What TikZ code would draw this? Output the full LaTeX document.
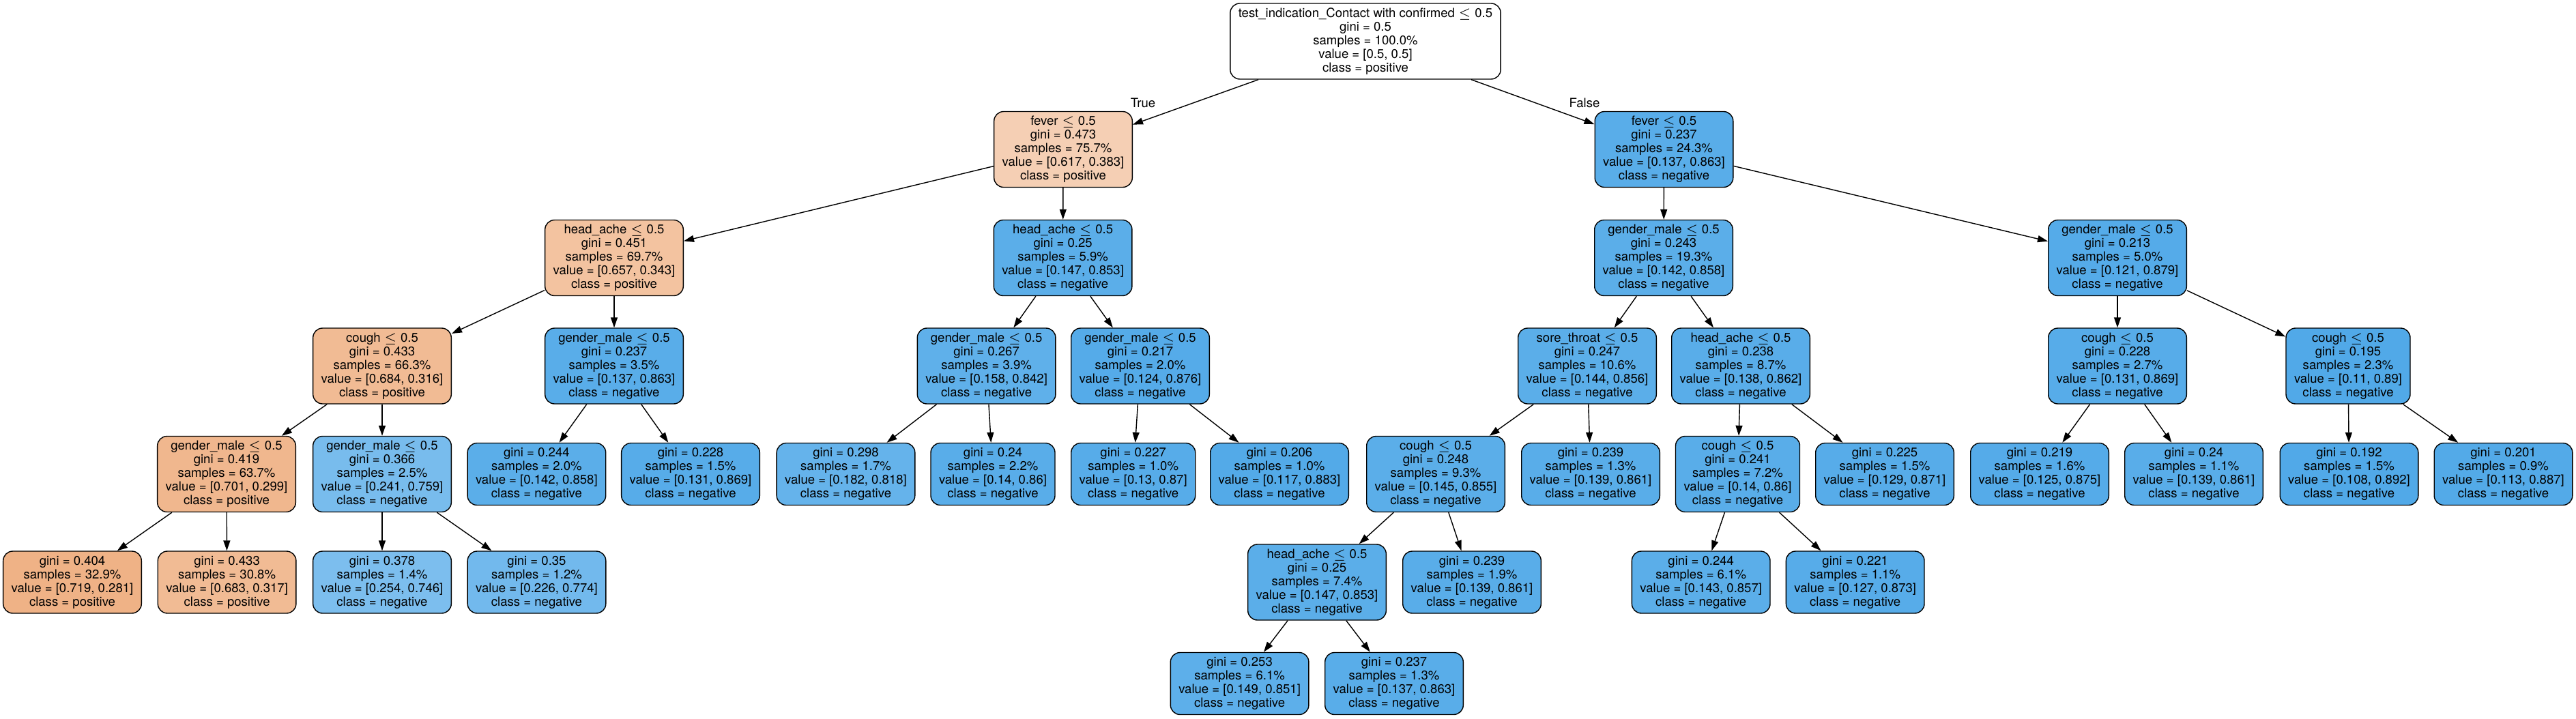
\documentclass[tikz,border=0pt]{standalone}
\usepackage{fontspec}
\setmainfont{TeX Gyre Heros}
\usetikzlibrary{arrows.meta}
\definecolor{pos}{RGB}{229,129,57}
\definecolor{neg}{RGB}{57,157,229}

\begin{document}
\begin{tikzpicture}[
	box/.style={draw, line width=0.4pt, rounded corners=0.14cm, align=center, inner xsep=0.12cm, inner ysep=0pt, font=\fontsize{5.28pt}{5.69pt}\selectfont},
	splitbox/.style={box, minimum height=1.11cm},
	leafbox/.style={box, minimum height=0.91cm},
	arr/.style={-{Triangle[length=0.15cm,width=0.1cm]}, line width=0.4pt},
	lbl/.style={font=\fontsize{5.28pt}{5.69pt}\selectfont, inner sep=0pt}
]
\useasboundingbox (0,0) rectangle (37.75,-10.53);

% depth 0 and 1
\path (20.01,-0.605) node[splitbox, fill=white] (root) {test\_indication\_Contact with confirmed $\leq$ 0.5\\gini = 0.5\\samples = 100.0\%\\value = [0.5, 0.5]\\class = positive};
\path (15.58,-2.19) node[splitbox, fill=pos!38!white] (fev1) {fever $\leq$ 0.5\\gini = 0.473\\samples = 75.7\%\\value = [0.617, 0.383]\\class = positive};
\path (24.385,-2.19) node[splitbox, fill=neg!84!white] (fev2) {fever $\leq$ 0.5\\gini = 0.237\\samples = 24.3\%\\value = [0.137, 0.863]\\class = negative};
\path (16.75,-1.51) node[lbl] (ltrue) {True};
\path (23.22,-1.51) node[lbl] (lfalse) {False};

% depth 2
\path (9.00,-3.78) node[splitbox, fill=pos!48!white] (head1) {head\_ache $\leq$ 0.5\\gini = 0.451\\samples = 69.7\%\\value = [0.657, 0.343]\\class = positive};
\path (15.576,-3.78) node[splitbox, fill=neg!83!white] (head2) {head\_ache $\leq$ 0.5\\gini = 0.25\\samples = 5.9\%\\value = [0.147, 0.853]\\class = negative};
\path (24.38,-3.78) node[splitbox, fill=neg!83!white] (gen1) {gender\_male $\leq$ 0.5\\gini = 0.243\\samples = 19.3\%\\value = [0.142, 0.858]\\class = negative};
\path (31.03,-3.78) node[splitbox, fill=neg!86!white] (gen2) {gender\_male $\leq$ 0.5\\gini = 0.213\\samples = 5.0\%\\value = [0.121, 0.879]\\class = negative};

% depth 3
\path (5.60,-5.365) node[splitbox, fill=pos!54!white] (cough1) {cough $\leq$ 0.5\\gini = 0.433\\samples = 66.3\%\\value = [0.684, 0.316]\\class = positive};
\path (9.00,-5.365) node[splitbox, fill=neg!84!white] (gen3) {gender\_male $\leq$ 0.5\\gini = 0.237\\samples = 3.5\%\\value = [0.137, 0.863]\\class = negative};
\path (14.456,-5.365) node[splitbox, fill=neg!81!white] (gen4) {gender\_male $\leq$ 0.5\\gini = 0.267\\samples = 3.9\%\\value = [0.158, 0.842]\\class = negative};
\path (16.71,-5.365) node[splitbox, fill=neg!86!white] (gen5) {gender\_male $\leq$ 0.5\\gini = 0.217\\samples = 2.0\%\\value = [0.124, 0.876]\\class = negative};
\path (23.26,-5.365) node[splitbox, fill=neg!83!white] (sore1) {sore\_throat $\leq$ 0.5\\gini = 0.247\\samples = 10.6\%\\value = [0.144, 0.856]\\class = negative};
\path (25.51,-5.365) node[splitbox, fill=neg!84!white] (head3) {head\_ache $\leq$ 0.5\\gini = 0.238\\samples = 8.7\%\\value = [0.138, 0.862]\\class = negative};
\path (31.03,-5.365) node[splitbox, fill=neg!85!white] (cough2) {cough $\leq$ 0.5\\gini = 0.228\\samples = 2.7\%\\value = [0.131, 0.869]\\class = negative};
\path (34.41,-5.365) node[splitbox, fill=neg!88!white] (cough3) {cough $\leq$ 0.5\\gini = 0.195\\samples = 2.3\%\\value = [0.11, 0.89]\\class = negative};

% depth 4
\path (3.32,-6.95) node[splitbox, fill=pos!57!white] (gen6) {gender\_male $\leq$ 0.5\\gini = 0.419\\samples = 63.7\%\\value = [0.701, 0.299]\\class = positive};
\path (5.60,-6.95) node[splitbox, fill=neg!68!white] (gen7) {gender\_male $\leq$ 0.5\\gini = 0.366\\samples = 2.5\%\\value = [0.241, 0.759]\\class = negative};
\path (7.864,-6.95) node[leafbox, fill=neg!83!white] (l1) {gini = 0.244\\samples = 2.0\%\\value = [0.142, 0.858]\\class = negative};
\path (10.12,-6.95) node[leafbox, fill=neg!85!white] (l2) {gini = 0.228\\samples = 1.5\%\\value = [0.131, 0.869]\\class = negative};
\path (12.395,-6.95) node[leafbox, fill=neg!78!white] (l3) {gini = 0.298\\samples = 1.7\%\\value = [0.182, 0.818]\\class = negative};
\path (14.55,-6.95) node[leafbox, fill=neg!84!white] (l4) {gini = 0.24\\samples = 2.2\%\\value = [0.14, 0.86]\\class = negative};
\path (16.607,-6.95) node[leafbox, fill=neg!85!white] (l5) {gini = 0.227\\samples = 1.0\%\\value = [0.13, 0.87]\\class = negative};
\path (18.75,-6.95) node[leafbox, fill=neg!87!white] (l6) {gini = 0.206\\samples = 1.0\%\\value = [0.117, 0.883]\\class = negative};
\path (21.04,-6.95) node[splitbox, fill=neg!83!white] (cough4) {cough $\leq$ 0.5\\gini = 0.248\\samples = 9.3\%\\value = [0.145, 0.855]\\class = negative};
\path (23.31,-6.95) node[leafbox, fill=neg!84!white] (l7) {gini = 0.239\\samples = 1.3\%\\value = [0.139, 0.861]\\class = negative};
\path (25.465,-6.95) node[splitbox, fill=neg!84!white] (cough5) {cough $\leq$ 0.5\\gini = 0.241\\samples = 7.2\%\\value = [0.14, 0.86]\\class = negative};
\path (27.62,-6.95) node[leafbox, fill=neg!85!white] (l8) {gini = 0.225\\samples = 1.5\%\\value = [0.129, 0.871]\\class = negative};
\path (29.89,-6.95) node[leafbox, fill=neg!86!white] (l9) {gini = 0.219\\samples = 1.6\%\\value = [0.125, 0.875]\\class = negative};
\path (32.15,-6.95) node[leafbox, fill=neg!84!white] (l10) {gini = 0.24\\samples = 1.1\%\\value = [0.139, 0.861]\\class = negative};
\path (34.425,-6.95) node[leafbox, fill=neg!88!white] (l11) {gini = 0.192\\samples = 1.5\%\\value = [0.108, 0.892]\\class = negative};
\path (36.685,-6.95) node[leafbox, fill=neg!87!white] (l12) {gini = 0.201\\samples = 0.9\%\\value = [0.113, 0.887]\\class = negative};

% depth 5
\path (1.06,-8.535) node[leafbox, fill=pos!61!white] (l13) {gini = 0.404\\samples = 32.9\%\\value = [0.719, 0.281]\\class = positive};
\path (3.326,-8.535) node[leafbox, fill=pos!54!white] (l14) {gini = 0.433\\samples = 30.8\%\\value = [0.683, 0.317]\\class = positive};
\path (5.60,-8.535) node[leafbox, fill=neg!66!white] (l15) {gini = 0.378\\samples = 1.4\%\\value = [0.254, 0.746]\\class = negative};
\path (7.865,-8.535) node[leafbox, fill=neg!71!white] (l16) {gini = 0.35\\samples = 1.2\%\\value = [0.226, 0.774]\\class = negative};
\path (19.30,-8.535) node[splitbox, fill=neg!83!white] (head4) {head\_ache $\leq$ 0.5\\gini = 0.25\\samples = 7.4\%\\value = [0.147, 0.853]\\class = negative};
\path (21.57,-8.535) node[leafbox, fill=neg!84!white] (l17) {gini = 0.239\\samples = 1.9\%\\value = [0.139, 0.861]\\class = negative};
\path (24.927,-8.535) node[leafbox, fill=neg!83!white] (l18) {gini = 0.244\\samples = 6.1\%\\value = [0.143, 0.857]\\class = negative};
\path (27.187,-8.535) node[leafbox, fill=neg!85!white] (l19) {gini = 0.221\\samples = 1.1\%\\value = [0.127, 0.873]\\class = negative};

% depth 6
\path (18.166,-10.02) node[leafbox, fill=neg!82!white] (l20) {gini = 0.253\\samples = 6.1\%\\value = [0.149, 0.851]\\class = negative};
\path (20.43,-10.02) node[leafbox, fill=neg!84!white] (l21) {gini = 0.237\\samples = 1.3\%\\value = [0.137, 0.863]\\class = negative};

% edges
\draw [arr] (root) -- (fev1);
\draw [arr] (root) -- (fev2);
\draw [arr] (fev1) -- (head1);
\draw [arr] (fev1) -- (head2);
\draw [arr] (fev2) -- (gen1);
\draw [arr] (fev2) -- (gen2);
\draw [arr] (head1) -- (cough1);
\draw [arr] (head1) -- (gen3);
\draw [arr] (head2) -- (gen4);
\draw [arr] (head2) -- (gen5);
\draw [arr] (gen1) -- (sore1);
\draw [arr] (gen1) -- (head3);
\draw [arr] (gen2) -- (cough2);
\draw [arr] (gen2) -- (cough3);
\draw [arr] (cough1) -- (gen6);
\draw [arr] (cough1) -- (gen7);
\draw [arr] (gen3) -- (l1);
\draw [arr] (gen3) -- (l2);
\draw [arr] (gen4) -- (l3);
\draw [arr] (gen4) -- (l4);
\draw [arr] (gen5) -- (l5);
\draw [arr] (gen5) -- (l6);
\draw [arr] (sore1) -- (cough4);
\draw [arr] (sore1) -- (l7);
\draw [arr] (head3) -- (cough5);
\draw [arr] (head3) -- (l8);
\draw [arr] (cough2) -- (l9);
\draw [arr] (cough2) -- (l10);
\draw [arr] (cough3) -- (l11);
\draw [arr] (cough3) -- (l12);
\draw [arr] (gen6) -- (l13);
\draw [arr] (gen6) -- (l14);
\draw [arr] (gen7) -- (l15);
\draw [arr] (gen7) -- (l16);
\draw [arr] (cough4) -- (head4);
\draw [arr] (cough4) -- (l17);
\draw [arr] (cough5) -- (l18);
\draw [arr] (cough5) -- (l19);
\draw [arr] (head4) -- (l20);
\draw [arr] (head4) -- (l21);

\end{tikzpicture}
\end{document}
